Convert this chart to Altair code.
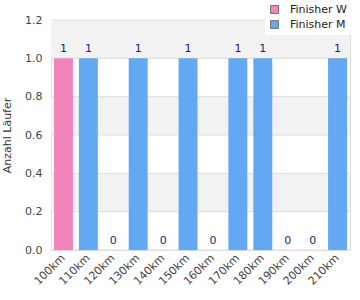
import altair as alt
import pandas as pd

categories = ["100km", "110km", "120km", "130km", "140km", "150km",
              "160km", "170km", "180km", "190km", "200km", "210km"]
values = [1, 1, 0, 1, 0, 1, 0, 1, 1, 0, 0, 1]
series = ["Finisher W", "Finisher M", "Finisher M", "Finisher M", "Finisher M", "Finisher M",
          "Finisher M", "Finisher M", "Finisher M", "Finisher M", "Finisher M", "Finisher M"]
band_lo = [0.2, 0.6, 1.0]
band_hi = [0.4, 0.8, 1.2]
y_ticks = [0, 0.2, 0.4, 0.6, 0.8, 1.0, 1.2]

df = pd.DataFrame({"cat": categories, "val": values, "series": series})
bands = pd.DataFrame({"lo": band_lo, "hi": band_hi})
grid = pd.DataFrame({"t": y_ticks})

FONT = "DejaVu Sans"
yscale = alt.Scale(domain=[0, 1.2], nice=False)
xscale = alt.Scale(domain=categories, paddingInner=0.24, paddingOuter=0.12)
xaxis = alt.Axis(labelAngle=315, labelAlign="right", labelBaseline="middle",
                 labelPadding=6, grid=False, labelOverlap=False)

band_layer = alt.Chart(bands).mark_rect(color="#f2f2f2").encode(
    y=alt.Y("lo:Q", scale=yscale, title="Anzahl Läufer"),
    y2="hi:Q",
)

grid_layer = alt.Chart(grid).mark_rule(color="#dddddd", strokeWidth=1).encode(
    y=alt.Y("t:Q", scale=yscale, title="Anzahl Läufer"),
)

bars = alt.Chart(df).mark_bar().encode(
    x=alt.X("cat:N", scale=xscale, sort=categories, title=None, axis=xaxis),
    y=alt.Y("val:Q", scale=yscale, title="Anzahl Läufer"),
    color=alt.Color("series:N",
                    scale=alt.Scale(domain=["Finisher W", "Finisher M"],
                                    range=["#f383bb", "#62a8f2"]),
                    legend=alt.Legend(title=None, orient="none", legendX=214, legendY=-20,
                                      fillColor="white", padding=4,
                                      symbolType="square", symbolSize=64,
                                      symbolStrokeColor="#777", symbolStrokeWidth=1,
                                      symbolOpacity=1, labelOffset=10,
                                      labelFont=FONT, labelFontSize=11, labelColor="#222",
                                      rowPadding=2)),
)

labels = alt.Chart(df).mark_text(baseline="bottom", dy=-4, color="#1a1a8c",
                                 font=FONT, fontSize=11).encode(
    x=alt.X("cat:N", scale=xscale, sort=categories, title=None, axis=xaxis),
    y=alt.Y("val:Q", scale=yscale, title="Anzahl Läufer"),
    text="val:Q",
)

chart = alt.layer(band_layer, grid_layer, bars, labels).properties(
    width=299, height=230,
    autosize=alt.AutoSizeParams(type="none"),
    padding={"left": 51, "top": 20, "right": 10, "bottom": 50},
).configure_view(
    stroke="#dddddd", strokeWidth=1
).configure(
    background="white"
).configure_axis(
    labelColor="#444", labelFontSize=11, labelFont=FONT,
    ticks=False, domain=False,
    titleFont=FONT, titleFontSize=11, titleFontWeight="normal", titleColor="#333",
).configure_axisY(
    values=y_ticks, format=".1f", labelOverlap=False, labelPadding=9,
    grid=False, titlePadding=12,
)

chart.save("out.html", embed_options={"renderer": "svg", "actions": False})
